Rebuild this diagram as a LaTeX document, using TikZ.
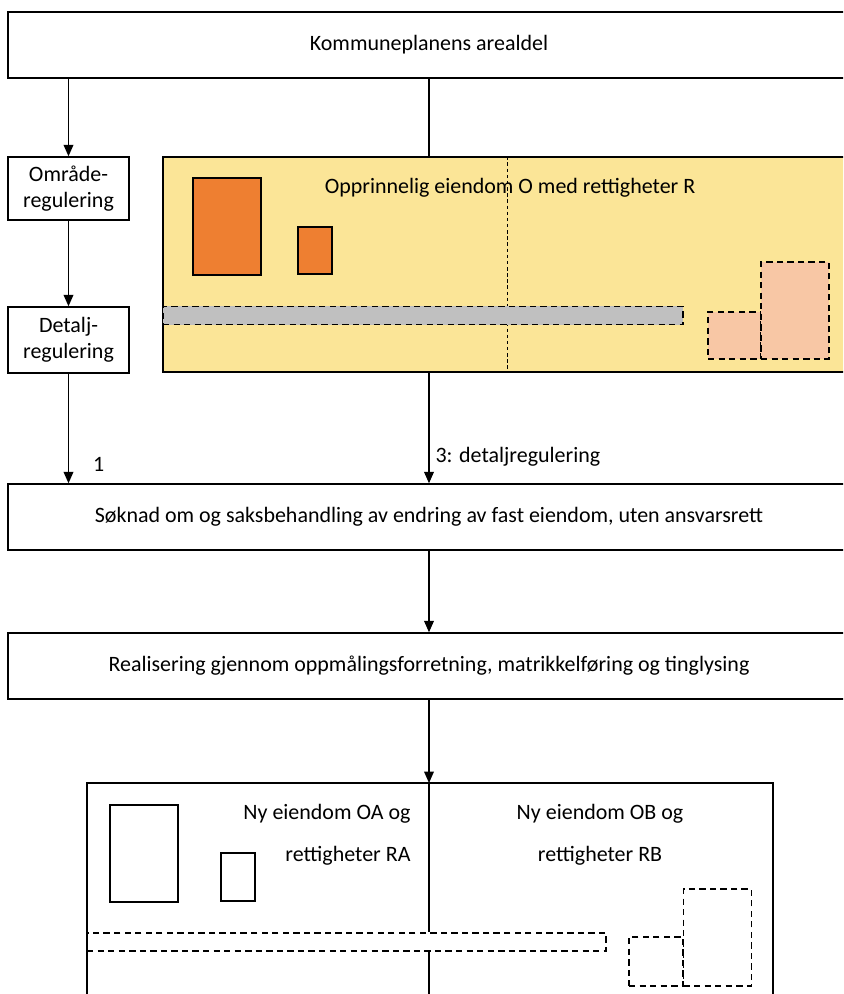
\documentclass[tikz,border=0pt]{standalone}
\usepackage{fontspec}
\setmainfont{Carlito}
\usepackage{tikz}
\usetikzlibrary{arrows.meta}

\definecolor{planyellow}{HTML}{FBE597}
\definecolor{houseorange}{HTML}{EE7F31}
\definecolor{housepink}{HTML}{F8C7A5}
\definecolor{roadgray}{HTML}{C0C0C0}

\begin{document}
\begin{tikzpicture}[x=0.02cm,y=-0.02cm,->,>={Triangle[length=6.5pt,width=5.5pt]},
                    line width=0.8pt,font=\fontsize{12.5}{15}\selectfont]
  \tikzstyle{box}=[draw,rectangle,inner sep=0pt,minimum height=1.32cm,align=center]
  \tikzstyle{house}=[draw,rectangle,inner sep=0pt,minimum width=1.36cm,minimum height=1.94cm]
  \tikzstyle{shed}=[draw,rectangle,inner sep=0pt,minimum width=0.68cm,minimum height=0.94cm]
  \tikzstyle{planned}=[dash pattern=on 3.6pt off 2.4pt]
  \tikzstyle{road}=[draw,planned,rectangle,inner sep=0pt,minimum width=10.4cm,minimum height=0.37cm]

  \useasboundingbox (0,0) rectangle (843,994);
  \clip (0,0) rectangle (843,994);

  % main chain
  \node[box,minimum width=16.84cm] (plan)    at (429,45)  {Kommuneplanens arealdel};
  \node[box,minimum width=2.42cm,minimum height=1.26cm]
                                     (omrade)  at (68.5,188.5) {Område-\\regulering};
  \node[box,minimum width=2.42cm]    (detalj)  at (68.5,340)   {Detalj-\\regulering};
  \node[box,minimum width=16.84cm]   (soknad)  at (429,517)  {Søknad om og saksbehandling av endring av fast eiendom, uten ansvarsrett};
  \node[box,minimum width=16.84cm]   (real)    at (429,666)  {Realisering gjennom oppmålingsforretning, matrikkelføring og tinglysing};

  % original property
  \node[draw,fill=planyellow,inner sep=0pt,minimum width=13.74cm,minimum height=4.3cm]
                                     (orig)    at (506.5,264.5) {};
  \draw[-,line width=0.4pt,dash pattern=on 2pt off 1.5pt] (orig.north -| 507,0) -- (orig.south -| 507,0);
  \node (origlabel) at (510,188) {Opprinnelig eiendom O med rettigheter R};
  \node[house,fill=houseorange]          (oh1) at (227,226.5) {};
  \node[shed,fill=houseorange]           (os1) at (315,250.5) {};
  \node[road,fill=roadgray]              (oroad) at (423,315.5) {};
  \node[draw,planned,fill=housepink,inner sep=0pt,minimum width=1.06cm,minimum height=0.94cm]
                                         (os2) at (734.5,335.5) {};
  \node[house,planned,fill=housepink]    (oh2) at (795,310.5) {};

  % new properties
  \draw[-] (87,1000) -- (87,783) -- (773,783) -- (773,1000);
  \node[house]                          (nh1) at (144,853.5) {};
  \node[shed,minimum height=0.96cm]     (ns1) at (238,877) {};
  \node[road,minimum width=10.38cm,minimum height=0.36cm] (nroad) at (346.5,942) {};
  \node[draw,planned,inner sep=0pt,minimum width=1.08cm,minimum height=0.98cm]
                                        (ns2) at (656,961.5) {};
  \node[house,planned]                  (nh2) at (717.5,937.5) {};
  \coordinate (newtop) at (429,783);
  \draw[-] (newtop) -- (nroad.north -| newtop);
  \draw[-] (nroad.south -| newtop) -- (newtop |- 0,1000);
  \node[anchor=east,align=right]  (nlabelA) at (417,835) {Ny eiendom OA og\\[9pt]rettigheter RA};
  \node[align=center]             (nlabelB) at (600,835) {Ny eiendom OB og\\[9pt]rettigheter RB};

  \path (plan.south -| omrade.north) edge (omrade.north)
        (omrade) edge (detalj)
        (detalj) edge node[pos=0.83,right,xshift=0.36cm] {1} (soknad.north -| detalj)
        (plan.south) edge[-] (plan.south |- orig.north)
        (plan.south |- orig.south) edge node[pos=0.76,right] {3: detaljregulering} (soknad.north)
        (soknad) edge (real)
        (real) edge (newtop);
\end{tikzpicture}
\end{document}
